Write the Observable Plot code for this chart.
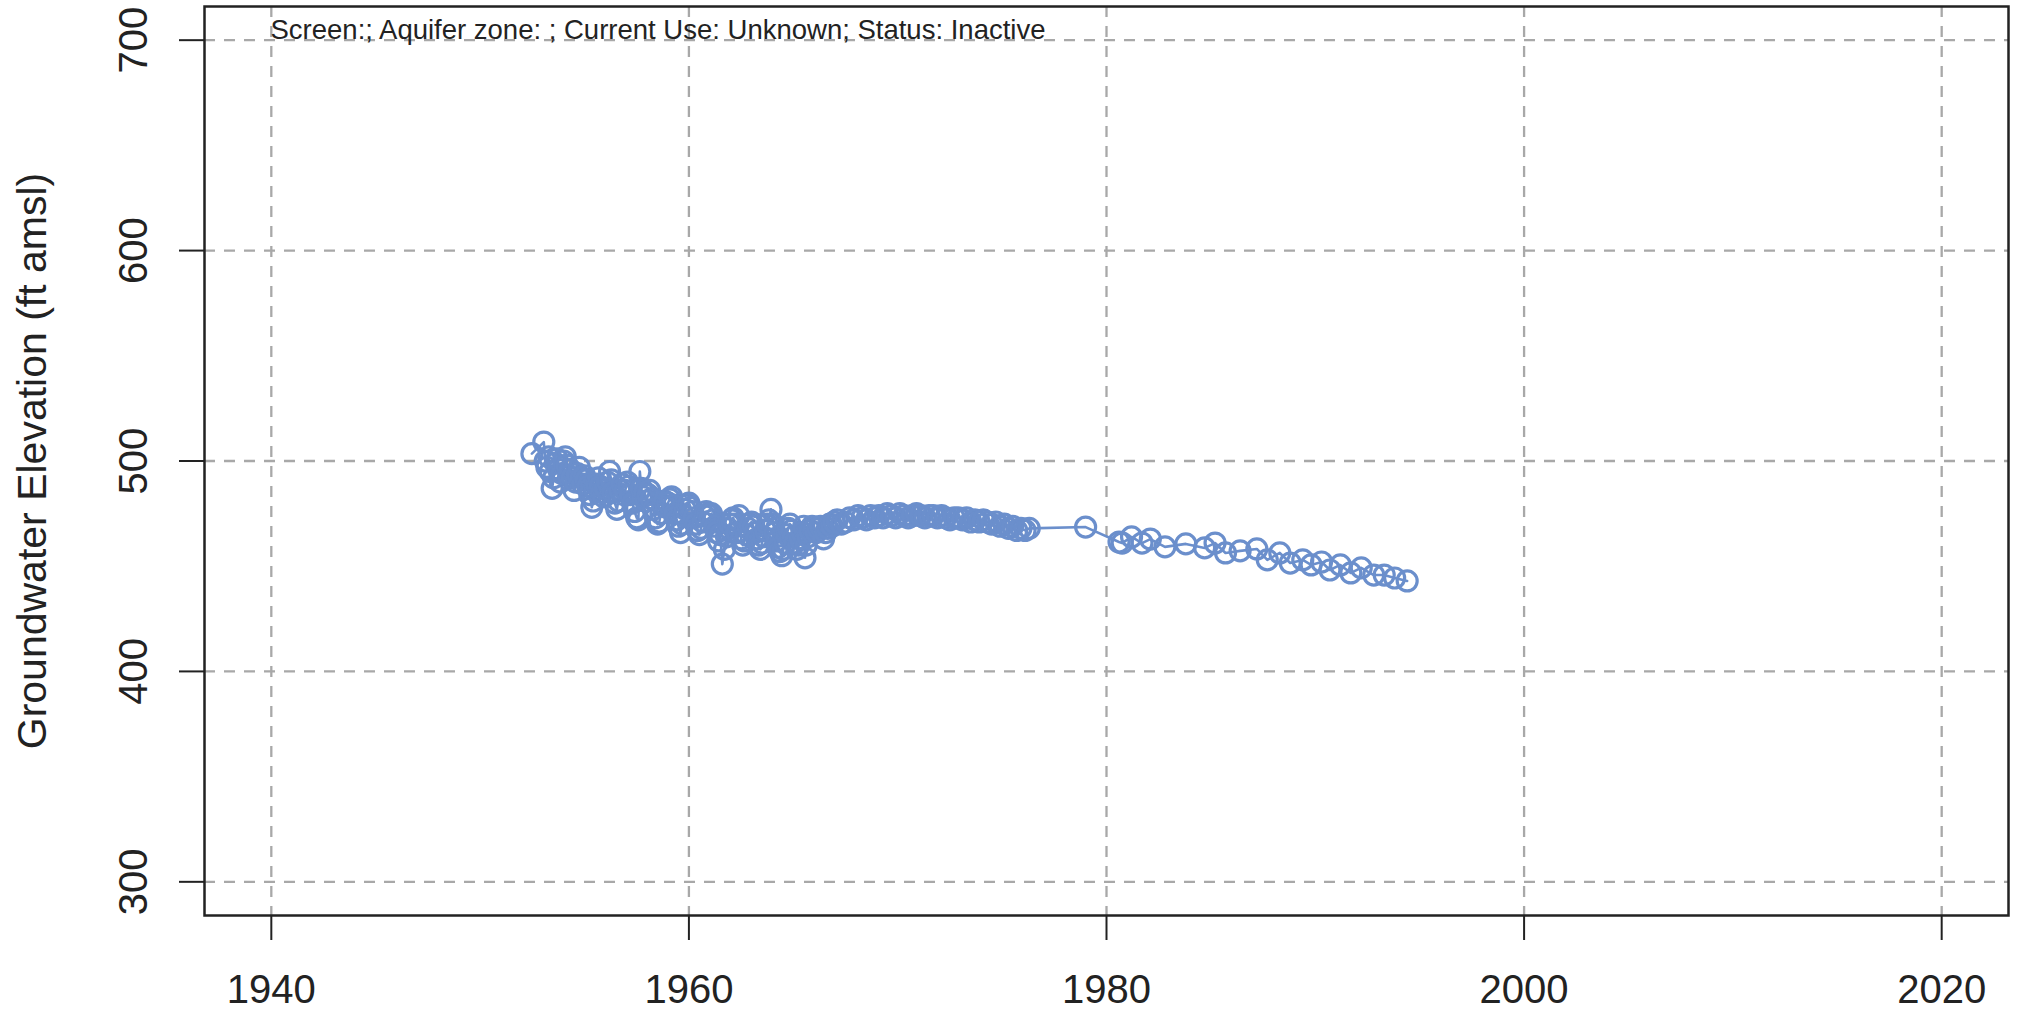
<!DOCTYPE html>
<html>
<head>
<meta charset="utf-8">
<script src="https://cdn.jsdelivr.net/npm/d3@7"></script>
<script src="https://cdn.jsdelivr.net/npm/@observablehq/plot@0.6"></script>
<style>
  html, body { margin: 0; padding: 0; background: #fff; }
</style>
</head>
<body>
<div id="chart"></div>
<script>
// ---- data (decimal years, groundwater elevation ft amsl) ----
const years = [
  1952.48, 1953.05, 1953.12, 1953.2, 1953.28, 1953.36, 1953.45, 1953.52, 1953.6, 1953.68, 1953.76, 1953.84, 1953.92,
  1954.0, 1954.08, 1954.16, 1954.24, 1954.32, 1954.4, 1954.5, 1954.58, 1954.66, 1954.75, 1954.84, 1954.92,
  1955.0, 1955.08, 1955.17, 1955.25, 1955.35, 1955.42, 1955.5, 1955.58, 1955.67, 1955.75, 1955.84, 1955.92,
  1956.0, 1956.1, 1956.2, 1956.28, 1956.36, 1956.45, 1956.55, 1956.62, 1956.7, 1956.8, 1956.88, 1956.95,
  1957.05, 1957.12, 1957.2, 1957.3, 1957.4, 1957.5, 1957.58, 1957.65, 1957.72, 1957.8, 1957.88, 1957.95,
  1958.05, 1958.12, 1958.2, 1958.3, 1958.4, 1958.5, 1958.58, 1958.66, 1958.75, 1958.84, 1958.92,
  1959.0, 1959.08, 1959.17, 1959.25, 1959.33, 1959.42, 1959.5, 1959.6, 1959.67, 1959.75, 1959.83, 1959.92,
  1960.0, 1960.08, 1960.17, 1960.25, 1960.33, 1960.42, 1960.5, 1960.58, 1960.67, 1960.75, 1960.83, 1960.92,
  1961.0, 1961.08, 1961.17, 1961.25, 1961.33, 1961.42, 1961.5, 1961.6, 1961.7, 1961.8, 1961.88, 1961.95,
  1962.05, 1962.12, 1962.2, 1962.3, 1962.4, 1962.5, 1962.58, 1962.66, 1962.75, 1962.84, 1962.92,
  1963.0, 1963.08, 1963.17, 1963.25, 1963.33, 1963.42, 1963.5, 1963.58, 1963.67, 1963.75, 1963.83, 1963.93,
  1964.05, 1964.12, 1964.2, 1964.28, 1964.36, 1964.45, 1964.52, 1964.6, 1964.68, 1964.76, 1964.84, 1964.92,
  1965.0, 1965.08, 1965.17, 1965.25, 1965.33, 1965.42, 1965.5, 1965.56, 1965.62, 1965.7, 1965.8, 1965.9,
  1966.0, 1966.1, 1966.2, 1966.3, 1966.45, 1966.55, 1966.65, 1966.75, 1966.85, 1966.95,
  1967.1, 1967.3, 1967.5, 1967.7, 1967.9,
  1968.1, 1968.3, 1968.5, 1968.7, 1968.9,
  1969.1, 1969.3, 1969.5, 1969.7, 1969.9,
  1970.1, 1970.3, 1970.5, 1970.7, 1970.9,
  1971.1, 1971.3, 1971.5, 1971.7, 1971.9,
  1972.1, 1972.3, 1972.5, 1972.7, 1972.9,
  1973.1, 1973.3, 1973.5, 1973.7, 1973.9,
  1974.1, 1974.3, 1974.5, 1974.7, 1974.9,
  1975.1, 1975.3, 1975.5, 1975.7, 1975.9,
  1976.1, 1976.3,
  1979.0, 1980.6, 1980.75, 1981.2, 1981.7, 1982.1, 1982.8, 1983.8, 1984.7, 1985.2,
  1985.7, 1986.4, 1987.2, 1987.7, 1988.3, 1988.8, 1989.4, 1989.8, 1990.3, 1990.7,
  1991.2, 1991.7, 1992.2, 1992.8, 1993.3, 1993.8, 1994.4
];
const elevations = [
  503.5, 509, 500, 497, 502, 495, 487, 492, 499, 501, 496, 490, 494,
  500, 502, 498, 493, 496, 492, 486, 490, 494, 497, 492, 489,
  493, 491, 488, 484, 478, 481, 486, 489, 492, 488, 485, 483,
  487, 490, 495, 491, 485, 480, 477, 481, 486, 489, 484, 486,
  490, 488, 484, 480, 476, 473, 472, 495, 487, 483, 485, 481,
  484, 486, 482, 477, 473, 470, 471, 475, 479, 481, 478,
  480, 482, 483, 479, 475, 472, 469, 466, 470, 474, 477, 479,
  480, 478, 476, 473, 470, 467, 465, 468, 471, 474, 476, 475,
  474, 475, 472, 469, 466, 462, 465, 451, 458, 464, 468, 470,
  472, 473, 470, 466, 474, 463, 460, 462, 465, 468, 470,
  471, 469, 466, 463, 460, 458, 461, 464, 467, 470, 472, 477,
  470, 466, 462, 459, 457, 455, 458, 461, 465, 468, 470, 467,
  464, 461, 458, 460, 463, 466, 469, 454, 460, 464, 467, 469,
  468, 466, 468, 469, 463, 466, 468, 470, 469, 471,
  472, 470, 471, 473, 472,
  474, 473, 472, 474, 473,
  474, 473, 475, 474, 473,
  475, 474, 473, 474, 475,
  474, 473, 474, 474, 473,
  474, 473, 472, 473, 473,
  472, 473, 471, 472, 471,
  472, 471, 470, 471, 469,
  470, 468, 469, 467, 468,
  467, 468,
  468.6, 461.5, 461, 463.9, 461, 462.9, 459.2, 460.6, 458.7, 461,
  456.3, 457.3, 458.2, 453, 456.3, 451.5, 453, 450.6, 452, 448.2,
  450.6, 446.8, 449.2, 445.8, 445.8, 444.4, 443
];
const xTicks = [1940, 1960, 1980, 2000, 2020];
const yTicks = [300, 400, 500, 600, 700];
const yLabel = ["Groundwater Elevation (ft amsl)"];
const titleText = ["Screen:; Aquifer zone: ; Current Use: Unknown; Status: Inactive"];

const data = years.map((t, i) => ({t, v: elevations[i]}));

const blue = "#6b8fcc";
const grid = "#a8a8a8";
const font = "'Liberation Sans', Arial, Helvetica, sans-serif";

const chart = Plot.plot({
  width: 2021,
  height: 1013,
  marginLeft: 204,
  marginRight: 13,
  marginTop: 6,
  marginBottom: 98,
  style: {fontFamily: font, fontSize: "40px", background: "#fff", color: "#222"},
  x: {domain: [1936.8, 2023.2]},
  y: {domain: [284, 716]},
  marks: [
    Plot.gridX(xTicks, {stroke: grid, strokeOpacity: 1, strokeWidth: 2.3, strokeDasharray: "11,9"}),
    Plot.gridY(yTicks, {stroke: grid, strokeOpacity: 1, strokeWidth: 2.3, strokeDasharray: "11,9"}),
    Plot.axisX(xTicks, {tickSize: 25, tickPadding: 34, strokeWidth: 2, tickFormat: d => String(d), fontSize: 40, label: null}),
    Plot.axisY(yTicks, {tickSize: 25, tickPadding: 33, tickRotate: -90, strokeWidth: 2, tickFormat: d => String(d), fontSize: 40, label: null}),
    Plot.line(data, {x: "t", y: "v", stroke: blue, strokeWidth: 2.6}),
    Plot.dot(data, {x: "t", y: "v", r: 10, stroke: blue, strokeWidth: 3.2, fill: "none"}),
    Plot.frame({stroke: "#222", strokeWidth: 2.5}),
    Plot.text(yLabel, {text: d => d, frameAnchor: "left", dx: -159, rotate: -90, textAnchor: "middle", lineAnchor: "bottom", fontSize: 41, fill: "#222"}),
    Plot.text(titleText, {text: d => d, frameAnchor: "top-left", dx: 66, dy: 32, textAnchor: "start", lineAnchor: "bottom", fontSize: 27.5, fill: "#222"})
  ]
});
document.getElementById("chart").appendChild(chart);
</script>
</body>
</html>
